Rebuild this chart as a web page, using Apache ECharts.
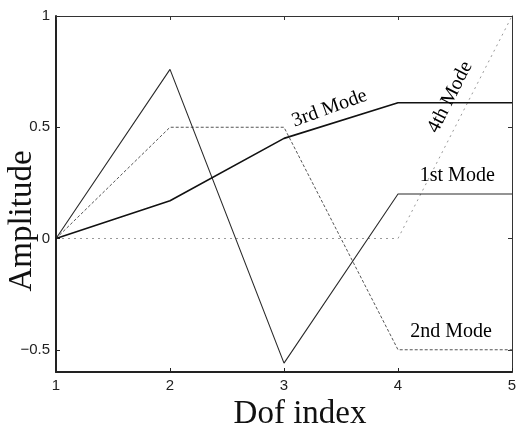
<!DOCTYPE html>
<html>
<head>
<meta charset="utf-8">
<script src="https://cdn.jsdelivr.net/npm/echarts@6/dist/echarts.min.js"></script>
<style>
html,body{margin:0;padding:0;background:#fff;}
#chart{width:516px;height:428px;}
</style>
</head>
<body>
<div id="chart"></div>
<script>
// Data
const dofIndex = [1, 2, 3, 4, 5];
const mode1 = [0, 0.76, -0.56, 0.2, 0.2];
const mode2 = [0, 0.5, 0.5, -0.5, -0.5];
const mode3 = [0, 0.17, 0.45, 0.61, 0.61];
const mode4 = [0, 0, 0, 0, 1];
const yTickValues = [-0.5, 0, 0.5, 1];
const xTickValues = [1, 2, 3, 4, 5];
const modeLabels = ['1st Mode', '2nd Mode', '3rd Mode', '4th Mode'];
// label anchor positions (data coords) and rotations
const labelX = [4.52, 4.465, 3.40, 4.456];
const labelY = [0.284, -0.419, 0.585, 0.635];
const labelRotate = [0, 0, 20, 63];

function pairs(ys) { return dofIndex.map((x, i) => [x, ys[i]]); }

const chart = echarts.init(document.getElementById('chart'), null, {renderer: 'canvas'});
const tickFont = {fontFamily: 'Liberation Sans', fontSize: 15, color: '#222'};
const serif = 'Liberation Serif';

const option = {
  animation: false,
  backgroundColor: '#fff',
  grid: {left: 56, right: 4, top: 16, bottom: 56, outerBoundsMode: 'none', containLabel: false},
  xAxis: [
    {
      type: 'value', min: 1, max: 5, position: 'bottom',
      splitLine: {show: false},
      axisLine: {show: true, onZero: false, lineStyle: {color: '#222', width: 2}},
      axisTick: {show: true, inside: true, length: 4, lineStyle: {color: '#222'}, customValues: xTickValues},
      axisLabel: Object.assign({margin: 6, customValues: xTickValues}, tickFont),
      name: 'Dof index', nameLocation: 'middle', nameGap: 20,
      nameTextStyle: {fontFamily: serif, fontSize: 33, color: '#111', padding: [0, 0, 0, 32]}
    },
    {
      type: 'value', min: 1, max: 5, position: 'top',
      splitLine: {show: false},
      axisLine: {show: true, onZero: false, lineStyle: {color: '#333', width: 1}},
      axisTick: {show: true, inside: true, length: 4, lineStyle: {color: '#333'}, customValues: xTickValues},
      axisLabel: {show: false}
    }
  ],
  yAxis: [
    {
      type: 'value', min: -0.6, max: 1, position: 'left',
      splitLine: {show: false},
      axisLine: {show: true, onZero: false, lineStyle: {color: '#222', width: 2}},
      axisTick: {show: true, inside: true, length: 4, lineStyle: {color: '#222'}, customValues: yTickValues},
      axisLabel: Object.assign({margin: 6, customValues: yTickValues,
        formatter: v => (v < 0 ? '\u2212' + Math.abs(v) : String(v))}, tickFont),
      name: 'Amplitude', nameLocation: 'middle', nameGap: 17, nameMoveOverlap: false,
      nameTextStyle: {fontFamily: serif, fontSize: 33, color: '#111', padding: [0, 54, 0, 0]}
    },
    {
      type: 'value', min: -0.6, max: 1, position: 'right',
      splitLine: {show: false},
      axisLine: {show: true, onZero: false, lineStyle: {color: '#333', width: 1}},
      axisTick: {show: true, inside: true, length: 4, lineStyle: {color: '#333'}, customValues: yTickValues},
      axisLabel: {show: false}
    }
  ],
  series: [
    {
      name: '4th Mode', type: 'line', data: pairs(mode4), symbol: 'none',
      lineStyle: {color: '#9a9a9a', width: 1, type: [2, 4]}, z: 1
    },
    {
      name: '2nd Mode', type: 'line', data: pairs(mode2), symbol: 'none',
      lineStyle: {color: '#555', width: 1, type: [3, 2]}, z: 2
    },
    {
      name: '1st Mode', type: 'line', data: pairs(mode1), symbol: 'none',
      lineStyle: {color: '#2a2a2a', width: 1.1}, z: 3
    },
    {
      name: '3rd Mode', type: 'line', data: pairs(mode3), symbol: 'none',
      lineStyle: {color: '#111', width: 1.6}, z: 4
    },
    {
      name: 'labels', type: 'scatter', symbolSize: 0, silent: true, z: 5,
      itemStyle: {opacity: 1},
      data: modeLabels.map((t, i) => ({
        value: [labelX[i], labelY[i]], name: t,
        label: {rotate: labelRotate[i]}
      })),
      label: {
        show: true, position: 'inside', formatter: p => p.name,
        fontFamily: serif, fontSize: 20, color: '#000', textBorderWidth: 0
      }
    }
  ]
};
chart.setOption(option);
</script>
</body>
</html>
